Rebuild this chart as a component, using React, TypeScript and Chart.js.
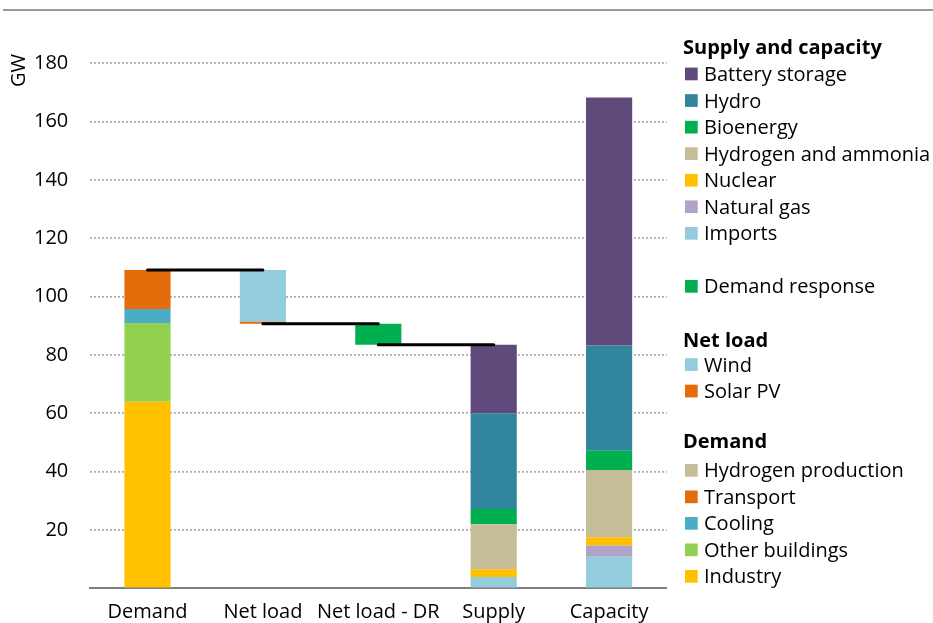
import React, { useEffect, useRef } from 'react';
import { Chart, registerables } from 'chart.js';

Chart.register(...registerables);

// ---------- data ----------
const categories = ['Demand', 'Net load', 'Net load - DR', 'Supply', 'Capacity'];
const yTickValues = [0, 20, 40, 60, 80, 100, 120, 140, 160, 180];

// Demand (GW)
const industry = [64, 0, 0, 0, 0];
const otherBuildings = [27, 0, 0, 0, 0];
const cooling = [4.8, 0, 0, 0, 0];
const transport = [13.3, 0, 0, 0, 0];
const hydrogenProduction = [0, 0, 0, 0, 0];
// Net load (GW)
const solarPV = [0, 0.7, 0, 0, 0];
const wind = [0, 17.7, 0, 0, 0];
// Demand response (GW)
const demandResponse = [0, 0, 7.2, 0, 0];
// Supply and capacity (GW)
const imports = [0, 0, 0, 3.9, 10.8];
const naturalGas = [0, 0, 0, 0, 3.9];
const nuclear = [0, 0, 0, 2.6, 2.8];
const hydrogenAmmonia = [0, 0, 0, 15.5, 23.1];
const bioenergy = [0, 0, 0, 5.2, 6.6];
const hydro = [0, 0, 0, 32.8, 36.1];
const batteryStorage = [0, 0, 0, 23.5, 85.0];

// columns that hang down from the previous column's level (waterfall)
const hangsFromPrevious = [false, true, true, false, false];

// stacking order (bottom -> top)
const series = [
  { label: 'Industry', values: industry, color: '#FFC000' },
  { label: 'Other buildings', values: otherBuildings, color: '#92D050' },
  { label: 'Cooling', values: cooling, color: '#4BACC6' },
  { label: 'Transport', values: transport, color: '#E46C0A' },
  { label: 'Hydrogen production', values: hydrogenProduction, color: '#C4BD97' },
  { label: 'Solar PV', values: solarPV, color: '#E46C0A' },
  { label: 'Wind', values: wind, color: '#93CDDD' },
  { label: 'Demand response', values: demandResponse, color: '#00B050' },
  { label: 'Imports', values: imports, color: '#93CDDD' },
  { label: 'Natural gas', values: naturalGas, color: '#B3A2C7' },
  { label: 'Nuclear', values: nuclear, color: '#FFC000' },
  { label: 'Hydrogen and ammonia', values: hydrogenAmmonia, color: '#C4BD97' },
  { label: 'Bioenergy', values: bioenergy, color: '#00B050' },
  { label: 'Hydro', values: hydro, color: '#31859C' },
  { label: 'Battery storage', values: batteryStorage, color: '#604A7B' },
];

const legendGroups = [
  { title: 'Supply and capacity', titleY: 47.2, items: ['Battery storage', 'Hydro', 'Bioenergy', 'Hydrogen and ammonia', 'Nuclear', 'Natural gas', 'Imports'], itemY: [73.9, 100.5, 127.1, 153.6, 180.2, 206.7, 233.3] },
  { title: '', titleY: 0, items: ['Demand response'], itemY: [286.3] },
  { title: 'Net load', titleY: 340, items: ['Wind', 'Solar PV'], itemY: [364.5, 391] },
  { title: 'Demand', titleY: 440.5, items: ['Hydrogen production', 'Transport', 'Cooling', 'Other buildings', 'Industry'], itemY: [470.3, 496.8, 523.3, 549.8, 576.3] },
];

const FONT = '"Open Sans", "Noto Sans", sans-serif';

function buildData() {
  const n = categories.length;
  const colTotals = categories.map((_, i) => series.reduce((s, d) => s + d.values[i], 0));
  const bases: number[] = [];
  const levels: number[] = [];
  for (let i = 0; i < n; i++) {
    if (hangsFromPrevious[i] && i > 0) {
      bases[i] = levels[i - 1] - colTotals[i];
      levels[i] = bases[i];
    } else {
      bases[i] = 0;
      levels[i] = colTotals[i];
    }
  }
  const running = bases.slice();
  const barSets = series.map((s) => {
    const data = s.values.map((v, i) => {
      if (!v) return null;
      const r: [number, number] = [running[i], running[i] + v];
      running[i] += v;
      return r;
    });
    return {
      type: 'bar' as const,
      label: s.label,
      data,
      backgroundColor: s.color,
      borderWidth: 0,
      grouped: false,
      barPercentage: 0.4,
      categoryPercentage: 1,
      order: 1,
    };
  });
  const lineSets: any[] = [];
  const connector = (i: number) => ({
    type: 'line' as const,
    label: 'connector' + i,
    data: categories.map((_, j) => (j === i || j === i + 1 ? levels[i] : null)),
    borderColor: '#000',
    borderWidth: 3,
    borderCapStyle: 'round',
    pointRadius: 0,
    spanGaps: false,
    fill: false,
    order: 0,
  });
  for (let i = 0; i < n - 1; i++) {
    if (hangsFromPrevious[i + 1] || (hangsFromPrevious[i] && !hangsFromPrevious[i + 1])) {
      lineSets.push(connector(i));
    }
  }
  return [...barSets, ...lineSets];
}

const decorPlugin = {
  id: 'decor',
  afterDraw(chart: any) {
    const ctx = chart.ctx as CanvasRenderingContext2D;
    ctx.save();
    // top rule
    ctx.fillStyle = '#999999';
    ctx.fillRect(3, 9, 930, 2);
    // axis unit
    ctx.save();
    ctx.translate(25, 70.5);
    ctx.rotate(-Math.PI / 2);
    ctx.fillStyle = '#000';
    ctx.font = `20px ${FONT}`;
    ctx.textAlign = 'center';
    ctx.textBaseline = 'alphabetic';
    ctx.fillText('GW', 0, 0);
    ctx.restore();
    // legend
    const colorOf: Record<string, string> = {};
    chart.data.datasets.forEach((d: any) => {
      if (d.type === 'bar') colorOf[d.label] = d.backgroundColor;
    });
    const capHalf = 7.1;
    ctx.textAlign = 'left';
    ctx.textBaseline = 'alphabetic';
    legendGroups.forEach((g) => {
      if (g.title) {
        ctx.font = `bold 20px ${FONT}`;
        ctx.fillStyle = '#000';
        ctx.fillText(g.title, 683, g.titleY + capHalf);
      }
      g.items.forEach((it, k) => {
        const y = g.itemY[k];
        ctx.fillStyle = colorOf[it];
        ctx.fillRect(685, y - 6.3, 12.7, 12.7);
        ctx.fillStyle = '#000';
        ctx.font = `20px ${FONT}`;
        ctx.fillText(it, 704, y + capHalf);
      });
    });
    ctx.restore();
  },
};

export default function App() {
  const ref = useRef<HTMLCanvasElement | null>(null);
  useEffect(() => {
    document.body.style.margin = '0';
    if (!ref.current) return;
    const chart = new Chart(ref.current, {
      type: 'bar',
      data: { labels: categories, datasets: buildData() as any },
      options: {
        responsive: false,
        animation: false,
        layout: { padding: { top: 63.3, right: 266.2, left: 0, bottom: 0 } },
        plugins: { legend: { display: false }, tooltip: { enabled: false } },
        scales: {
          x: {
            offset: true,
            grid: { display: true, color: 'rgba(0,0,0,0)', drawTicks: false, offset: true },
            border: { display: true, color: '#7f7f7f', width: 2 },
            ticks: { font: { family: FONT, size: 20 }, color: '#000', padding: 12, maxRotation: 0, autoSkip: false },
            afterFit: (s: any) => { s.height = 34.7; },
          },
          y: {
            min: 0,
            max: 180,
            afterBuildTicks: (s: any) => { s.ticks = yTickValues.map((v) => ({ value: v })); },
            ticks: {
              font: { family: FONT, size: 20 },
              color: '#000',
              padding: 21.5,
              callback: (v: any) => (Number(v) === 0 ? '' : String(v)),
            },
            grid: {
              color: (c: any) => (c.tick && c.tick.value === 0 ? 'rgba(0,0,0,0)' : '#a3a3a3'),
              lineWidth: 1.8,
              drawTicks: false,
            },
            border: { display: false, dash: [1.8, 2.2] },
            afterFit: (s: any) => { s.width = 89.8; },
          },
        },
      } as any,
      plugins: [decorPlugin],
    });
    return () => chart.destroy();
  }, []);
  return (
    <div style={{ width: 933, height: 623, position: 'relative', background: '#fff' }}>
      <canvas ref={ref} width={933} height={623} style={{ display: 'block' }} />
    </div>
  );
}
